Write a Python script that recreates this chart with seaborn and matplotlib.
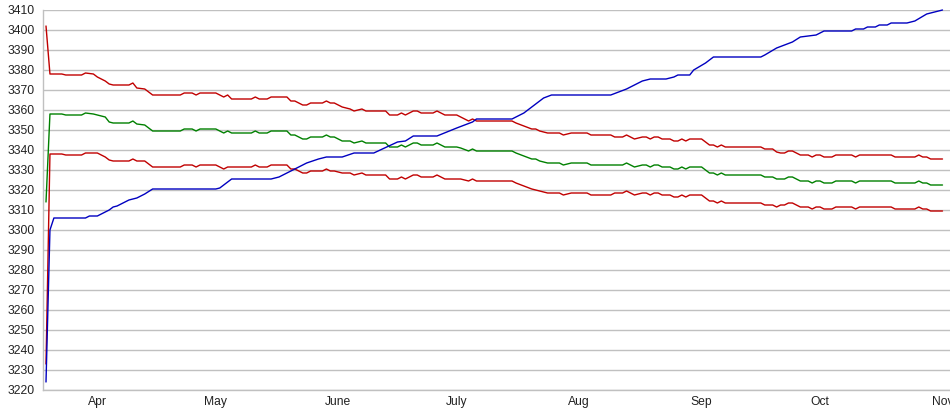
import pandas as pd
import matplotlib.pyplot as plt
import seaborn as sns

# data: days counted from 1 April
band_days = [-13, -12, -9, -8, -4, -3, -1, 0, 1, 2, 3, 4, 8, 9, 10, 12, 14, 21, 22, 24,
             25, 26, 30, 32, 33, 34, 39, 40, 41, 43, 44, 48, 49, 50, 52, 53, 54, 57, 58, 59,
             60, 62, 64, 65, 67, 68, 73, 74, 76, 77, 78, 80, 81, 82, 85, 86, 88, 91, 92, 94,
             95, 96, 105, 106, 108, 110, 111, 112, 114, 117, 118, 120, 124, 125, 130, 131, 133, 134, 136, 138,
             139, 140, 141, 142, 143, 145, 146, 147, 148, 149, 150, 153, 155, 156, 157, 158, 159, 168, 169, 171,
             172, 173, 174, 175, 176, 178, 180, 181, 182, 183, 184, 186, 187, 191, 192, 193, 201, 202, 207, 208,
             209, 210, 211, 214]

mid_vals = [3314, 3358, 3358, 3357.5, 3357.5, 3358.5, 3358, 3357.5, 3357, 3356.5, 3354, 3353.5, 3353.5, 3354.5, 3353, 3352.5, 3349.5, 3349.5, 3350.5, 3350.5,
            3349.5, 3350.5, 3350.5, 3348.5, 3349.5, 3348.5, 3348.5, 3349.5, 3348.5, 3348.5, 3349.5, 3349.5, 3347.5, 3347.5, 3345.5, 3345.5, 3346.5, 3346.5, 3347.5, 3346.5,
            3346.5, 3344.5, 3344.5, 3343.5, 3344.5, 3343.5, 3343.5, 3341.5, 3341.5, 3342.5, 3341.5, 3343.5, 3343.5, 3342.5, 3342.5, 3343.5, 3341.5, 3341.5, 3341, 3339.5,
            3340.5, 3339.5, 3339.5, 3338.5, 3337, 3335.5, 3335.5, 3334.5, 3333.5, 3333.5, 3332.5, 3333.5, 3333.5, 3332.5, 3332.5, 3332.5, 3332.5, 3333.5, 3331.5, 3332.5,
            3332.5, 3331.5, 3332.5, 3332.5, 3331.5, 3331.5, 3330.5, 3330.5, 3331.5, 3330.5, 3331.5, 3331.5, 3328.5, 3328.5, 3327.5, 3328.5, 3327.5, 3327.5, 3326.5, 3326.5,
            3325.5, 3325.5, 3325.5, 3326.5, 3326.5, 3324.5, 3324.5, 3323.5, 3324.5, 3324.5, 3323.5, 3323.5, 3324.5, 3324.5, 3323.5, 3324.5, 3324.5, 3323.5, 3323.5, 3324.5,
            3323.5, 3323.5, 3322.5, 3322.5]

upper_vals = [3402, 3378, 3378, 3377.5, 3377.5, 3378.5, 3378, 3376.5, 3375.5, 3374.5, 3373, 3372.5, 3372.5, 3373.5, 3371, 3370.5, 3367.5, 3367.5, 3368.5, 3368.5,
              3367.5, 3368.5, 3368.5, 3366.5, 3367.5, 3365.5, 3365.5, 3366.5, 3365.5, 3365.5, 3366.5, 3366.5, 3364.5, 3364.5, 3362.5, 3362.5, 3363.5, 3363.5, 3364.5, 3363.5,
              3363.5, 3361.5, 3360.5, 3359.5, 3360.5, 3359.5, 3359.5, 3357.5, 3357.5, 3358.5, 3357.5, 3359.5, 3359.5, 3358.5, 3358.5, 3359.5, 3357.5, 3357.5, 3356.5, 3354.5,
              3355.5, 3354.5, 3354.5, 3353.5, 3352, 3350.5, 3350.5, 3349.5, 3348.5, 3348.5, 3347.5, 3348.5, 3348.5, 3347.5, 3347.5, 3346.5, 3346.5, 3347.5, 3345.5, 3346.5,
              3346.5, 3345.5, 3346.5, 3346.5, 3345.5, 3345.5, 3344.5, 3344.5, 3345.5, 3344.5, 3345.5, 3345.5, 3342.5, 3342.5, 3341.5, 3342.5, 3341.5, 3341.5, 3340.5, 3340.5,
              3339, 3338.5, 3338.5, 3339.5, 3339.5, 3337.5, 3337.5, 3336.5, 3337.5, 3337.5, 3336.5, 3336.5, 3337.5, 3337.5, 3336.5, 3337.5, 3337.5, 3336.5, 3336.5, 3337.5,
              3336.5, 3336.5, 3335.5, 3335.5]

lower_vals = [3233, 3338, 3338, 3337.5, 3337.5, 3338.5, 3338.5, 3338.5, 3337.5, 3336.5, 3335, 3334.5, 3334.5, 3335.5, 3334.5, 3334.5, 3331.5, 3331.5, 3332.5, 3332.5,
              3331.5, 3332.5, 3332.5, 3330.5, 3331.5, 3331.5, 3331.5, 3332.5, 3331.5, 3331.5, 3332.5, 3332.5, 3330.5, 3330.5, 3328.5, 3328.5, 3329.5, 3329.5, 3330.5, 3329.5,
              3329.5, 3328.5, 3328.5, 3327.5, 3328.5, 3327.5, 3327.5, 3325.5, 3325.5, 3326.5, 3325.5, 3327.5, 3327.5, 3326.5, 3326.5, 3327.5, 3325.5, 3325.5, 3325.5, 3324.5,
              3325.5, 3324.5, 3324.5, 3323.5, 3322, 3320.5, 3320, 3319.5, 3318.5, 3318.5, 3317.5, 3318.5, 3318.5, 3317.5, 3317.5, 3318.5, 3318.5, 3319.5, 3317.5, 3318.5,
              3318.5, 3317.5, 3318.5, 3318.5, 3317.5, 3317.5, 3316.5, 3316.5, 3317.5, 3316.5, 3317.5, 3317.5, 3314.5, 3314.5, 3313.5, 3314.5, 3313.5, 3313.5, 3312.5, 3312.5,
              3311.5, 3312.5, 3312.5, 3313.5, 3313.5, 3311.5, 3311.5, 3310.5, 3311.5, 3311.5, 3310.5, 3310.5, 3311.5, 3311.5, 3310.5, 3311.5, 3311.5, 3310.5, 3310.5, 3311.5,
              3310.5, 3310.5, 3309.5, 3309.5]

blue_days = [-13, -12, -11, -3, -2, 0, 3, 4, 5, 8, 10, 12, 14, 30, 31, 34, 44, 46, 51, 53,
             56, 58, 62, 65, 70, 76, 78, 80, 86, 91, 95, 96, 105, 108, 111, 113, 115, 130, 134, 135,
             138, 140, 144, 146, 147, 150, 151, 154, 156, 168, 169, 172, 176, 178, 182, 184, 191, 192, 194, 195,
             197, 198, 200, 201, 205, 207, 210, 214]
blue_vals = [3224, 3300, 3306, 3306, 3307, 3307, 3310, 3311.5, 3312, 3315, 3316, 3318, 3320.5, 3320.5, 3321, 3325.5, 3325.5, 3326.5, 3331.5, 3333.5,
             3335.5, 3336.5, 3336.5, 3338.5, 3338.5, 3344, 3344.5, 3347, 3347, 3351, 3354, 3355.5, 3355.5, 3358.5, 3363, 3366, 3367.5, 3367.5, 3370.5, 3371.5,
             3374.5, 3375.5, 3375.5, 3376.5, 3377.5, 3377.5, 3380, 3383.5, 3386.5, 3386.5, 3387.5, 3391, 3394, 3396.5, 3397.5, 3399.5, 3399.5, 3400.5, 3400.5, 3401.5,
             3401.5, 3402.5, 3402.5, 3403.5, 3403.5, 3404.5, 3408, 3410]

month_labels = ["Apr", "May", "June", "July", "Aug", "Sep", "Oct", "Nov"]
y_ticks = list(range(3220, 3411, 10))

base = pd.Timestamp("2013-04-01")
band_dates = base + pd.to_timedelta(band_days, unit="D")
blue_dates = base + pd.to_timedelta(blue_days, unit="D")
month_starts = pd.date_range(base, periods=len(month_labels), freq="MS")

sns.set_style("white")
plt.rcParams["font.family"] = ["Liberation Sans", "DejaVu Sans"]

fig = plt.figure(figsize=(9.5, 4.15), dpi=100)
ax = fig.add_axes([43 / 950, 25 / 415, 907 / 950, 380 / 415])

sns.lineplot(x=band_dates, y=upper_vals, color="#c00000", lw=1, ax=ax)
sns.lineplot(x=band_dates, y=mid_vals, color="#008000", lw=1, ax=ax)
sns.lineplot(x=band_dates, y=lower_vals, color="#c00000", lw=1, ax=ax)
sns.lineplot(x=blue_dates, y=blue_vals, color="#0000c0", lw=1, ax=ax)
for line in ax.lines:
    line.set_clip_on(False)

ax.set_xlim(base + pd.Timedelta(days=-13.76), base + pd.Timedelta(days=215.9))
ax.set_ylim(3220, 3410)
ax.set_yticks(y_ticks)
ax.set_xticks(month_starts)
ax.set_xticklabels(month_labels)
ax.tick_params(length=0, labelsize=8.7, colors="#222222")
ax.tick_params(axis="y", pad=6)
ax.tick_params(axis="x", pad=4)

ax.grid(axis="y", color="#c0c0c0", lw=1)
ax.grid(axis="x", visible=False)
for side in ["top", "right"]:
    ax.spines[side].set_visible(False)
for side in ["left", "bottom"]:
    ax.spines[side].set_color("#c0c0c0")
    ax.spines[side].set_linewidth(1)
ax.set_xlabel("")
ax.set_ylabel("")

plt.savefig("out.png", dpi=100)
